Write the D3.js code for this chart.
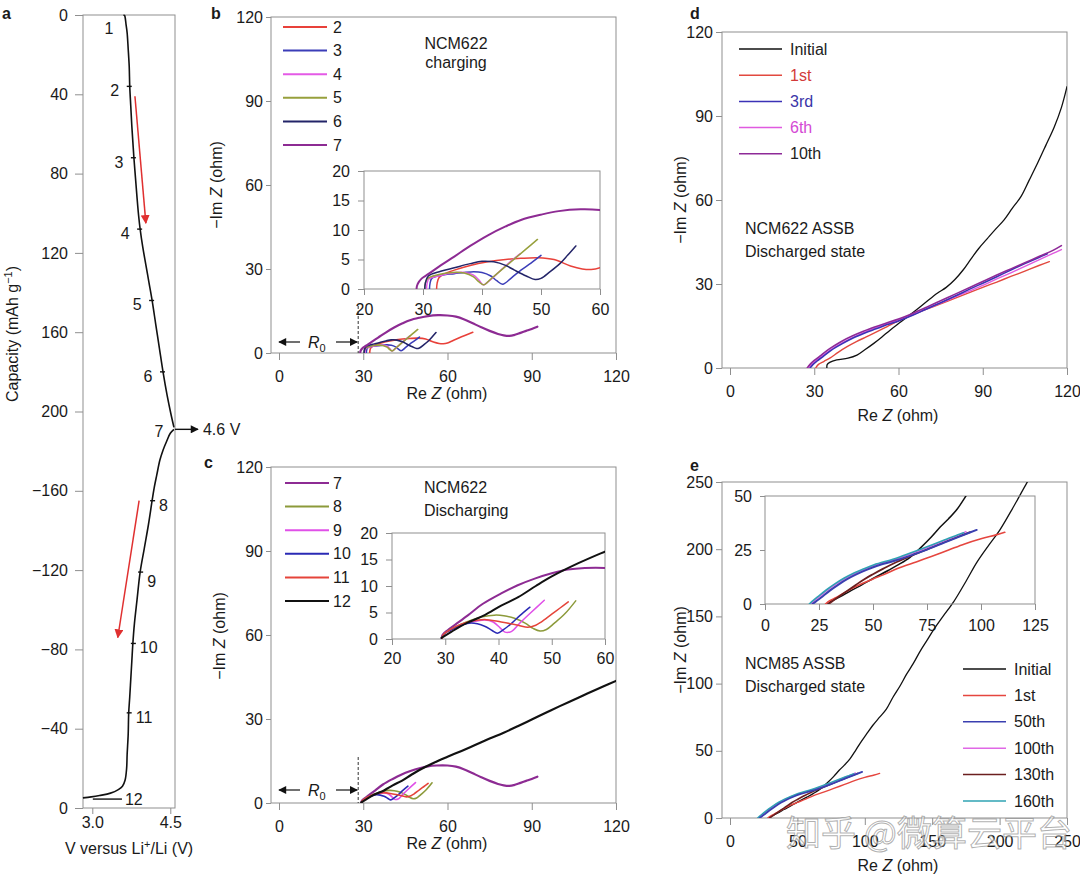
<!DOCTYPE html>
<html><head><meta charset="utf-8">
<script src="https://cdn.jsdelivr.net/npm/d3@7"></script>
<style>
body{margin:0;background:#fff;}
svg{font-family:"Liberation Sans",Arial,Helvetica,sans-serif;}
</style></head><body>
<svg id="chart" width="1080" height="876"></svg>
<script>
// ---------------- DATA ----------------
// Panel a: voltage (V) vs capacity (mAh/g)
const aYTopTicks = [0, 40, 80, 120, 160, 200];
const aYBotTicks = [-160, -120, -80, -40, 0];
const aXTicks = [3.0, 4.5];
const aCharge = [[3.60,0],[3.62,0.3],[3.63,1],[3.65,5],[3.67,9],[3.69,17],[3.71,26],[3.72,36],[3.74,46],[3.76,56],[3.78,64],[3.80,72],[3.83,82],[3.86,92],[3.89,101],[3.92,108],[3.97,117],[4.03,126],[4.09,135],[4.15,144],[4.22,156],[4.29,168],[4.36,180],[4.44,192],[4.51,201],[4.57,208]];
const aDischarge = [[4.57,-191],[4.50,-189],[4.43,-185],[4.36,-180.5],[4.30,-175.5],[4.24,-168],[4.19,-161.5],[4.15,-155],[4.08,-143],[4.00,-131],[3.92,-119],[3.86,-105],[3.81,-93],[3.78,-83],[3.76,-74],[3.74,-65],[3.72,-56],[3.70,-48],[3.69,-37],[3.67,-27],[3.66,-20],[3.63,-14],[3.58,-11],[3.50,-9.3],[3.35,-7.5],[3.14,-6.3],[2.98,-5.6],[2.82,-5.1]];
const aChargeMarks = [["1",3.61,0],["2",3.72,36],["3",3.80,72],["4",3.92,108],["5",4.15,144],["6",4.36,180],["7",4.57,208]];
const aDischargeMarks = [["8",4.15,-155],["9",3.92,-119],["10",3.78,-83],["11",3.70,-48]];
const aMark12 = ["12", 3.01, 3.57, -4.5];
const aArrows = [[3.82,41,4.03,105],[3.90,-155,3.49,-86]];
const aCutoff = [4.59, 209, "4.6 V"];

// Panel b: charging EIS
const bNames = ["2","3","4","5","6","7"];
const bColors = ["#e8413a","#3b3db8","#e45ae6","#97a03c","#232468","#8d2b93"];
const b2 = [[32.3,0],[32.4,1],[32.7,1.9],[33.5,2.5],[35.3,3.2],[38,4],[41,4.6],[44,5],[46.6,5.2],[49.5,5.3],[52.2,5],[55,3.9],[57,3.4],[58.5,3.3],[60,3.6],[62,4.5],[65,5.8],[69,7.4]];
const b3 = [[31.1,0],[31.2,1],[31.5,1.8],[33,2.3],[35.3,2.6],[38.1,2.9],[40,2.8],[41.5,2.2],[42.5,1.4],[43.5,0.8],[45,1.9],[46.6,3.2],[48.3,4.4],[50,5.7]];
const b4 = [[30.6,0],[30.7,1],[31,1.7],[33,2.3],[35,2.7],[37,2.8],[38.5,2.4],[39.5,1.5],[40.2,0.7],[41,1.2],[43,3],[45,4.8],[46.5,6]];
const b5 = [[30.3,0],[30.4,1],[30.8,1.8],[32.5,2.4],[35,2.8],[37,2.7],[38.5,2.1],[39.5,1.2],[40.3,0.7],[41.5,1.7],[43.5,3.4],[45.5,5.1],[47.5,6.8],[49.4,8.4]];
const b6 = [[30.3,0],[30.4,1],[30.9,2.2],[33,3],[35.3,3.6],[38,4.3],[40,4.7],[42,4.6],[44,4],[45.5,3.2],[47.5,2.2],[49,1.6],[50,1.8],[51.5,2.9],[53.2,4.3],[54.5,5.7],[55.9,7.3]];
const b7 = [[28.9,0],[29.0,0.6],[29.3,1.2],[29.8,1.8],[31,2.6],[33,4],[35.3,5.5],[38,7.3],[41,9.1],[44,10.6],[46.6,11.7],[50,12.6],[53,13.2],[56.7,13.5],[60,13.4],[63,13],[66,12],[69,10.6],[72,9.2],[75,7.9],[78,6.8],[80,6.3],[82,6.1],[84,6.5],[86,7.2],[88,7.9],[90,8.6],[92,9.4]];
const bSeries = [b2,b3,b4,b5,b6,b7];

// Panel c: discharging EIS
const cNames = ["7","8","9","10","11","12"];
const cColors = ["#8d2b93","#8c9a3a","#e050e8","#2a2ab5","#e5443a","#111111"];
const c7 = [[29.3,0],[29.5,0.8],[30.5,1.7],[32,2.8],[34.3,4.5],[37,6.6],[40.5,8.6],[43.5,10.1],[46.8,11.4],[50,12.4],[53,13.1],[56.2,13.4],[60,13.4],[63,13],[66,12],[69,10.6],[72,9.2],[75,7.9],[78,6.8],[80,6.3],[82,6.1],[84,6.5],[86,7.2],[88,7.9],[90,8.6],[92,9.4]];
const c8 = [[29.4,0],[29.6,0.8],[31,1.8],[33,2.8],[35,3.6],[37,4.2],[39.2,4.5],[41,4.4],[43,3.9],[45,3],[46.5,2],[47.8,1.5],[49,1.8],[50.5,3],[52.5,4.8],[54.5,7.2]];
const c9 = [[29.4,0],[29.6,0.8],[31,1.7],[33,2.6],[35,3.2],[37.4,3.6],[39,3.2],[40.3,2.1],[41.2,1.3],[42.4,1.4],[44,3],[46,4.9],[48.6,7.3]];
const c10 = [[29.4,0],[29.6,0.8],[31,1.7],[33,2.6],[34.9,3],[37.4,2.4],[38.8,1.6],[39.8,1.1],[41,1.8],[42.5,3],[44,4.4],[45.9,6]];
const c11 = [[29.4,0],[29.6,0.8],[31,1.8],[33,2.8],[35,3.4],[37.4,3.7],[40.5,3.2],[43.7,2.6],[45.5,2.2],[47,2.6],[48,3.2],[50,4.7],[51.5,5.8],[53.1,7]];
const c12 = [[29.3,0.2],[31.2,1.4],[34,3],[37.4,4.5],[40.5,6.3],[43.7,7.9],[47,10],[50,11.8],[55,14.3],[60,16.5],[65,18.6],[70,20.8],[75,23],[80,25.1],[85,27.4],[90,29.8],[95,32.2],[100,34.6],[105,36.9],[110,39.2],[115,41.4],[120,43.6]];
const cSeries = [c7,c8,c9,c10,c11,c12];

// Panel d: NCM622 ASSB discharged state
const dNames = ["Initial","1st","3rd","6th","10th"];
const dColors = ["#111111","#e2493f","#3b32b6","#e05ae0","#8e2a98"];
const dLabelColors = ["#222222","#d23a3a","#3a35a8","#d44ad4","#222222"];
const dInitial = [[34.5,0],[34.6,1.2],[35.5,2],[38,2.9],[42,3.5],[45.2,4.6],[48,6.5],[51.2,8.8],[54,11],[57.1,13.6],[61,16.6],[65.5,20.1],[69.5,23.3],[73.8,26.7],[77,28.8],[80,31.5],[83,35],[85.7,38.8],[88.5,42.6],[91.7,46.3],[94.5,49.5],[97.6,52.9],[100.5,57],[103.6,61.2],[106.5,67],[109.5,73.1],[112.5,79.6],[115.5,86.2],[118,93],[120,100.5]];
const d1st = [[30.5,0],[31.5,1.3],[33.5,2.4],[35.7,3.6],[38.5,5.6],[41.7,7.6],[45,9.4],[48.5,11.1],[52,12.8],[56,14.8],[60,16.8],[65,19],[70,21],[75,22.9],[80,24.9],[85,26.8],[90,28.8],[95,30.7],[100,32.7],[105,34.6],[110,36.6],[113.7,38]];
const d3rd = [[28.5,0],[29.5,1.2],[31,2.5],[33,4],[36,6.3],[40,8.7],[44,10.8],[48,12.5],[52,14],[56,15.5],[60,16.8],[65,18.8],[70,21.1],[75,23.3],[80,25.6],[85,28],[90,30.3],[95,32.6],[100,35],[105,37.3],[110,39.5],[113,40.8]];
const d6th = [[28,0],[29,1.2],[30.5,2.6],[33,4.4],[36,6.6],[40,9],[44,11],[48,12.8],[52,14.4],[56,15.8],[60,17.2],[65,19],[70,21.1],[75,23.2],[80,25.3],[85,27.4],[90,29.5],[95,31.8],[100,34],[105,36.3],[110,38.6],[115,40.9],[118,42.3]];
const d10th = [[27.5,0],[28.5,1.3],[30,2.7],[32.5,4.6],[35.5,6.9],[39.5,9.4],[43.5,11.4],[47.5,13.1],[51.5,14.6],[55.5,16],[60,17.5],[65,19.5],[70,21.7],[75,24],[80,26.3],[85,28.6],[90,30.9],[95,33.2],[100,35.4],[105,37.6],[110,39.8],[115,42],[118,43.7]];
const dSeries = [dInitial,d1st,d3rd,d6th,d10th];

// Panel e: NCM85 ASSB discharged state
const eNames = ["Initial","1st","50th","100th","130th","160th"];
const eColors = ["#111111","#e5463f","#3a3fb0","#e068e6","#6b1f1f","#2fa3b3"];
const eInitial = [[29,0],[31,1.5],[36,4],[40,6.3],[45,9],[50,11.8],[57,15.5],[62,18.3],[67,21.5],[72,26],[77,31],[81,35.5],[85,39.5],[89,44],[93,50],[96.5,55.6],[101,62],[106,69],[111,75],[116,81],[121,90],[126,98],[131,107],[136,115],[141,124],[146,132],[151,140],[158,150],[166,161],[175,176],[183,190],[192,203],[200,214],[210,231],[220,249],[223,254]];
const e1st = [[28,0],[30,1.5],[33,3],[36,4.8],[40,7],[45,9.5],[50,11.6],[55,13.6],[61.6,16.5],[70,19.5],[77,22],[85,25],[92.4,27.8],[100,30.2],[107,32],[111,33.2]];
const e50th = [[22,0],[24,1.5],[26,3],[30,6.2],[34,9],[38,11.5],[42,13.6],[47,15.8],[52,17.7],[60,20],[67,22.3],[75,25.2],[83,28.4],[90,31.2],[98,34.3]];
const e100th = [[21,0],[23,1.7],[25,3.3],[29,6.5],[33,9.3],[37,11.8],[41,13.9],[46,16],[51,18],[60,20.6],[67,23],[75,26],[83,29.3],[90,32],[93,33.5]];
const e130th = [[29.5,0],[31,1.2],[34,3.3],[38,6],[42,8.8],[46,11.5],[50,13.8],[55,16.5],[60,19],[67,22],[75,25.3],[83,28.6],[90,31.4],[95,33.3]];
const e160th = [[20.5,0],[22.5,1.8],[24.5,3.4],[28.5,6.6],[32.5,9.4],[36.5,11.9],[40.5,14],[45.5,16.2],[50.5,18.2],[60,21],[67,23.5],[75,26.5],[83,29.6],[90,32.3],[92,33]];
const eSeries = [eInitial,e1st,e50th,e100th,e130th,e160th];
const eDrawOrder = [0,1,4,3,5,2];

const mainTicks120 = [0,30,60,90,120];
const insetTicksX = [20,30,40,50,60];
const insetTicksY = [0,5,10,15,20];
const eTicks = [0,50,100,150,200,250];
const eInsetTicksX = [0,25,50,75,100,125];
const eInsetTicksY = [0,25,50];
const R0 = 28.2;

// ---------------- DRAW ----------------
const svg = d3.select("#chart");
const FS = 16;
const GRAY = "#8f8f8f";
const defs = svg.append("defs");
function mk(id, color, w, h){
  defs.append("marker").attr("id",id).attr("viewBox","0 0 10 10").attr("refX",9).attr("refY",5)
    .attr("markerWidth",w).attr("markerHeight",h).attr("orient","auto").attr("markerUnits","userSpaceOnUse")
    .append("path").attr("d","M0,0 L10,5 L0,10 z").attr("fill",color);
}
mk("arrBlack","#111",9,8); mk("arrRed","#e03030",9,9);

const fmtMinus = d => (d<0 ? "\u2212"+Math.abs(d) : String(d));

function frame(g, x0, x1, y0, y1){
  g.append("rect").attr("x",x0).attr("y",y0).attr("width",x1-x0).attr("height",y1-y0)
   .attr("fill","none").attr("stroke",GRAY).attr("stroke-width",1);
}
function styleAxis(ax, fs){
  ax.attr("font-family",null).attr("font-size",null);
  ax.select(".domain").remove();
  ax.selectAll(".tick line").attr("stroke",GRAY);
  ax.selectAll(".tick text").attr("fill","#1a1a1a").style("font-size",(fs||FS)+"px");
}
function yAxis(g, scale, ticks, x, size, pad, fmt){
  const ax = g.append("g").attr("transform",`translate(${x},0)`)
    .call(d3.axisLeft(scale).tickValues(ticks).tickSize(size).tickPadding(pad).tickSizeOuter(0).tickFormat(fmt||fmtMinus));
  styleAxis(ax); return ax;
}
function xAxis(g, scale, ticks, y, size, pad, fmt){
  const ax = g.append("g").attr("transform",`translate(0,${y})`)
    .call(d3.axisBottom(scale).tickValues(ticks).tickSize(size).tickPadding(pad).tickSizeOuter(0).tickFormat(fmt||fmtMinus));
  styleAxis(ax); return ax;
}
function clip(id, x0,x1,y0,y1){
  defs.append("clipPath").attr("id",id).append("rect").attr("x",x0).attr("y",y0).attr("width",x1-x0).attr("height",y1-y0);
  return `url(#${id})`;
}
function lines(g, series, colors, xs, ys, widths, order, clipUrl){
  const gen = d3.line().x(d=>xs(d[0])).y(d=>ys(d[1])).curve(d3.curveCatmullRom.alpha(0.5));
  const gg = g.append("g"); if (clipUrl) gg.attr("clip-path",clipUrl);
  (order || series.map((_,i)=>i)).forEach(i=>{
    gg.append("path").attr("d",gen(series[i])).attr("fill","none").attr("stroke",colors[i])
      .attr("stroke-width", Array.isArray(widths)? widths[i] : widths).attr("stroke-linejoin","round").attr("stroke-linecap","round");
  });
}
function legend(g, names, colors, x1, x2, lx, y0, step, labelColors, lw){
  names.forEach((n,i)=>{
    const y = y0 + i*step;
    g.append("line").attr("x1",x1).attr("x2",x2).attr("y1",y).attr("y2",y).attr("stroke",colors[i]).attr("stroke-width",lw||2);
    g.append("text").attr("x",lx).attr("y",y+5.5).attr("font-size",FS).attr("fill",labelColors?labelColors[i]:"#1a1a1a").text(n);
  });
}
function label(g, x, y, txt, opts){
  opts = opts||{};
  return g.append("text").attr("x",x).attr("y",y).attr("font-size",opts.fs||FS).attr("font-weight",opts.bold?"bold":null)
    .attr("text-anchor",opts.anchor||"start").attr("fill",opts.fill||"#1a1a1a").text(txt);
}
function titleParts(t, parts){
  parts.forEach(p=>{
    const s = t.append("tspan").text(p[0]);
    if (p[1]==="i") s.attr("font-style","italic");
    if (p[1]==="sup") s.attr("font-size",11).attr("baseline-shift","super");
  });
}
function xTitle(g, x, y){
  const t = g.append("text").attr("x",x).attr("y",y).attr("text-anchor","middle").attr("font-size",FS).attr("fill","#1a1a1a");
  titleParts(t, [["Re "],["Z","i"],[" (ohm)"]]);
}
function yTitle(g, x, y){
  const t = g.append("text").attr("transform",`translate(${x},${y}) rotate(-90)`).attr("text-anchor","middle").attr("font-size",FS).attr("fill","#1a1a1a");
  titleParts(t, [["\u2212Im "],["Z","i"],[" (ohm)"]]);
}

// ===== Panel a =====
(function(){
  const g = svg.append("g");
  const xA = d3.scaleLinear().domain([3.0,4.5]).range([92.3,170.3]);
  const yCh = d3.scaleLinear().domain([0,400]).range([15,808]);
  const yDis = d3.scaleLinear().domain([-400,0]).range([15,808]);
  frame(g, 83, 175, 15, 808);
  yAxis(g, yCh, aYTopTicks, 83, 8, 7);
  yAxis(g, yDis, aYBotTicks, 83, 8, 7);
  xAxis(g, xA, aXTicks, 808, 6, 3, d3.format(".1f"));
  const gen = d3.line().curve(d3.curveCatmullRom.alpha(0.5));
  g.append("path").attr("d", gen(aCharge.map(d=>[xA(d[0]),yCh(d[1])]))).attr("fill","none").attr("stroke","#111").attr("stroke-width",1.6);
  g.append("path").attr("d", gen(aDischarge.map(d=>[xA(d[0]),yDis(d[1])]))).attr("fill","none").attr("stroke","#111").attr("stroke-width",1.6);
  aChargeMarks.forEach(m=>{
    const px = xA(m[1]), py = yCh(m[2]);
    if (m[0]!=="1" && m[0]!=="7") g.append("line").attr("x1",px-3).attr("x2",px+2).attr("y1",py).attr("y2",py).attr("stroke","#111").attr("stroke-width",1.4);
    label(g, px-15, py+(m[0]==="1"?19:10), m[0], {anchor:"middle"});
  });
  aDischargeMarks.forEach(m=>{
    const px = xA(m[1]), py = yDis(m[2]);
    g.append("line").attr("x1",px-2).attr("x2",px+3).attr("y1",py).attr("y2",py).attr("stroke","#111").attr("stroke-width",1.4);
    label(g, px+7, py+(m[0]==="9"?15:10), m[0]);
  });
  const y12 = yDis(aMark12[3]);
  g.append("line").attr("x1",xA(aMark12[1])).attr("x2",xA(aMark12[2])).attr("y1",y12).attr("y2",y12).attr("stroke","#111").attr("stroke-width",1.4);
  label(g, xA(aMark12[2])+3, y12+6, aMark12[0]);
  aArrows.forEach((a,i)=>{
    const ys = i===0? yCh : yDis;
    g.append("line").attr("x1",xA(a[0])).attr("y1",ys(a[1])).attr("x2",xA(a[2])).attr("y2",ys(a[3]))
      .attr("stroke","#e03030").attr("stroke-width",1.5).attr("marker-end","url(#arrRed)");
  });
  const cy = yCh(aCutoff[1]);
  g.append("line").attr("x1",xA(aCutoff[0])).attr("x2",xA(aCutoff[0])+23).attr("y1",cy).attr("y2",cy)
    .attr("stroke","#111").attr("stroke-width",1.4).attr("marker-end","url(#arrBlack)");
  label(g, xA(aCutoff[0])+28, cy+6, aCutoff[2]);
  // titles
  const t = g.append("text").attr("x",129).attr("y",854).attr("text-anchor","middle").attr("font-size",FS).attr("fill","#1a1a1a");
  titleParts(t, [["V versus Li"],["+","sup"],["/Li (V)"]]);
  const t2 = g.append("text").attr("transform","translate(18,334) rotate(-90)").attr("text-anchor","middle").attr("font-size",FS).attr("fill","#1a1a1a");
  titleParts(t2, [["Capacity (mAh g"],["\u22121","sup"],[")"]]);
  label(g, 2, 19, "a", {bold:true});
})();

function r0(g, xs, yBase, yTop, yArrow){
  const x = xs(R0);
  g.append("line").attr("x1",x).attr("x2",x).attr("y1",yTop).attr("y2",yBase).attr("stroke","#333").attr("stroke-width",1).attr("stroke-dasharray","3,2");
  g.append("line").attr("x1",300).attr("x2",279).attr("y1",yArrow).attr("y2",yArrow).attr("stroke","#111").attr("stroke-width",1.2).attr("marker-end","url(#arrBlack)");
  g.append("line").attr("x1",336).attr("x2",x-1).attr("y1",yArrow).attr("y2",yArrow).attr("stroke","#111").attr("stroke-width",1.2).attr("marker-end","url(#arrBlack)");
  const t = g.append("text").attr("x",308).attr("y",yArrow+6).attr("font-size",FS).attr("fill","#1a1a1a");
  t.append("tspan").attr("font-style","italic").text("R");
  t.append("tspan").attr("font-size",11).attr("dy",4).text("0");
}

// ===== Panel b =====
(function(){
  const g = svg.append("g");
  const xs = d3.scaleLinear().domain([0,120]).range([279,616]);
  const ys = d3.scaleLinear().domain([0,120]).range([353,17]);
  frame(g, 271, 616, 17, 353);
  yAxis(g, ys, mainTicks120, 271, 5, 3);
  xAxis(g, xs, mainTicks120, 353, 7, 11);
  const cp = clip("clipB",271,616,17,353);
  lines(g, bSeries, bColors, xs, ys, [1.6,1.6,1.6,1.6,1.6,2.2], null, cp);
  const ix = d3.scaleLinear().domain([20,60]).range([364,600]);
  const iy = d3.scaleLinear().domain([0,20]).range([289,171]);
  frame(g, 364, 600, 171, 289);
  yAxis(g, iy, insetTicksY, 364, 6, 8);
  xAxis(g, ix, insetTicksX, 289, 6, 9);
  const cpi = clip("clipBi",364,600,171,289);
  lines(g, bSeries, bColors, ix, iy, [1.5,1.5,1.5,1.5,1.5,2], null, cpi);
  legend(g, bNames, bColors, 283, 327, 333, 27, 23.6);
  label(g, 456, 49, "NCM622", {anchor:"middle"});
  label(g, 456, 68, "charging", {anchor:"middle"});
  r0(g, xs, 353, 306, 342);
  xTitle(g, 447, 399);
  yTitle(g, 222, 185);
  label(g, 211, 19, "b", {bold:true});
})();

// ===== Panel c =====
(function(){
  const g = svg.append("g");
  const xs = d3.scaleLinear().domain([0,120]).range([279,616]);
  const ys = d3.scaleLinear().domain([0,120]).range([803,467]);
  frame(g, 271, 616, 467, 803);
  yAxis(g, ys, mainTicks120, 271, 5, 3);
  xAxis(g, xs, mainTicks120, 803, 7, 11);
  const cp = clip("clipC",271,616,467,803);
  lines(g, cSeries, cColors, xs, ys, [2.2,1.6,1.6,1.6,1.6,2.2], null, cp);
  const ix = d3.scaleLinear().domain([20,60]).range([392,605]);
  const iy = d3.scaleLinear().domain([0,20]).range([639,533]);
  frame(g, 392, 605, 533, 639);
  yAxis(g, iy, insetTicksY, 392, 6, 8);
  xAxis(g, ix, insetTicksX, 639, 6, 8);
  const cpi = clip("clipCi",392,605,533,639);
  lines(g, cSeries, cColors, ix, iy, [2,1.5,1.5,1.5,1.5,2], null, cpi);
  legend(g, cNames, cColors, 285, 329, 333, 483, 23.6);
  label(g, 424, 493, "NCM622");
  label(g, 424, 516, "Discharging");
  r0(g, xs, 803, 757, 790);
  xTitle(g, 447, 849);
  yTitle(g, 225, 636);
  label(g, 204, 468, "c", {bold:true});
})();

// ===== Panel d =====
(function(){
  const g = svg.append("g");
  const xs = d3.scaleLinear().domain([0,120]).range([730,1067]);
  const ys = d3.scaleLinear().domain([0,120]).range([368,32]);
  frame(g, 722, 1067, 32, 368);
  yAxis(g, ys, mainTicks120, 722, 6, 3);
  xAxis(g, xs, mainTicks120, 368, 7, 11);
  const cp = clip("clipD",722,1067,32,368);
  lines(g, dSeries, dColors, xs, ys, [1.3,1.4,1.6,1.4,1.6], [0,1,3,2,4], cp);
  legend(g, dNames, dColors, 739, 782, 790, 49, 26.2, dLabelColors, 1.5);
  label(g, 745, 234, "NCM622 ASSB");
  label(g, 745, 257, "Discharged state");
  xTitle(g, 898, 421);
  yTitle(g, 686, 200);
  label(g, 690, 19, "d", {bold:true});
})();

// ===== Panel e =====
(function(){
  const g = svg.append("g");
  const xs = d3.scaleLinear().domain([0,250]).range([730,1067]);
  const ys = d3.scaleLinear().domain([0,250]).range([818,482]);
  frame(g, 722, 1067, 482, 818);
  yAxis(g, ys, eTicks, 722, 6, 3);
  xAxis(g, xs, eTicks, 818, 7, 11);
  const cp = clip("clipE",722,1067,482,818);
  lines(g, eSeries, eColors, xs, ys, [1.3,1.4,1.8,1.4,1.6,1.5], eDrawOrder, cp);
  const ix = d3.scaleLinear().domain([0,125]).range([765,1035]);
  const iy = d3.scaleLinear().domain([0,50]).range([604,496]);
  frame(g, 765, 1035, 496, 604);
  yAxis(g, iy, eInsetTicksY, 765, 5, 8);
  xAxis(g, ix, eInsetTicksX, 604, 6, 10);
  const cpi = clip("clipEi",765,1035,496,604);
  lines(g, eSeries, eColors, ix, iy, [1.5,1.6,2,1.5,1.8,1.6], eDrawOrder, cpi);
  legend(g, eNames, eColors, 963, 1006, 1014, 669, 26.4, null, 1.5);
  label(g, 745, 669, "NCM85 ASSB");
  label(g, 745, 692, "Discharged state");
  xTitle(g, 898, 871);
  yTitle(g, 686, 650);
  label(g, 690, 471, "e", {bold:true});
  // watermark
  g.append("text").attr("x",786).attr("y",846).attr("font-family","'Noto Sans CJK SC',sans-serif").attr("font-size",35)
    .attr("fill","rgba(255,255,255,0.55)").attr("stroke","rgba(110,110,110,0.55)").attr("stroke-width",1)
    .text("知乎 @微算云平台");
})();
</script>
</body></html>
